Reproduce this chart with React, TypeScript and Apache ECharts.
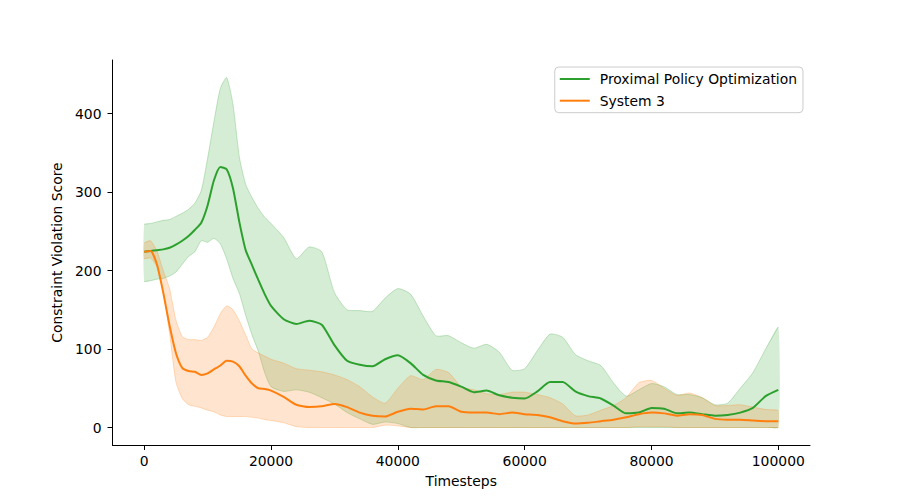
import React, { useEffect, useRef } from "react";
import * as echarts from "echarts";

const steps: number[] = [
  0, 1000, 2000, 3000, 4000, 5000, 6000, 7000, 8000, 9000, 10000, 11000, 12000, 13000, 14000, 15000, 16000, 17000, 18000, 19000, 20000,
  22000, 24000, 26000, 28000, 30000, 32000, 34000, 36000, 38000, 40000, 42000, 44000, 46000, 48000, 50000, 52000, 54000, 56000, 58000, 60000,
  62000, 64000, 66000, 68000, 70000, 72000, 74000, 76000, 78000, 80000, 82000, 84000, 86000, 88000, 90000, 92000, 94000, 96000, 98000, 100000,
];

const ppoMean: number[] = [
  224, 225, 226, 227, 229, 233, 238, 244, 252, 261, 283, 315, 332, 329, 305, 262, 226, 207, 188, 170, 155,
  138, 132, 136, 131, 105, 85, 80, 78, 87, 92, 82, 67, 60, 58, 52, 45, 47, 41, 38, 37,
  46, 58, 58, 46, 40, 37, 28, 18, 19, 25, 24, 18, 19, 17, 15, 16, 19, 25, 40, 48,
];
const ppoUpper: number[] = [
  259, 260, 262, 264, 265, 269, 273, 278, 286, 302, 343, 390, 432, 446, 412, 345, 310, 293, 279, 268, 260,
  242, 215, 230, 224, 172, 150, 149, 148, 165, 177, 170, 142, 117, 117, 108, 101, 106, 96, 73, 75,
  98, 119, 115, 93, 85, 79, 57, 40, 48, 56, 52, 42, 42, 38, 29, 31, 50, 70, 100, 128,
];
const ppoLower: number[] = [
  186, 187, 189, 190, 193, 198, 208, 218, 224, 238, 236, 241, 234, 215, 190, 171, 143, 118, 97, 70, 52,
  46, 48, 45, 38, 30, 19, 11, 4, 7, 5, 0, 0, 0, 0, 0, 0, 0, 0, 0, 0,
  0, 0, 0, 0, 0, 0, 0, 0, 0, 0, 0, 0, 0, 0, 0, 0, 0, 0, 0, 0,
];

const sys3Mean: number[] = [
  224, 225, 208, 172, 130, 95, 76, 72, 71, 67, 69, 74, 79, 85, 84, 78, 66, 56, 50, 49, 47,
  39, 29, 26, 27, 30, 26, 19, 15, 14, 20, 24, 23, 27, 27, 20, 19, 19, 17, 19, 17,
  16, 13, 8, 5, 6, 8, 10, 13, 17, 19, 18, 15, 17, 16, 11, 10, 10, 9, 8, 8,
];
const sys3Upper: number[] = [
  235, 238, 225, 200, 177, 137, 116, 112, 112, 111, 115, 128, 145, 155, 150, 136, 118, 100, 95, 91, 87,
  82, 75, 73, 71, 67, 61, 52, 39, 31, 50, 66, 61, 74, 70, 52, 48, 43, 42, 45, 45,
  42, 38, 30, 15, 16, 22, 28, 38, 57, 60, 50, 41, 44, 38, 28, 28, 29, 26, 23, 22,
];
const sys3Lower: number[] = [
  215, 216, 205, 172, 120, 58, 37, 29, 27, 25, 22, 20, 16, 14, 14, 14, 14, 13, 12, 10, 9,
  6, 1, 0, 0, 0, 0, 0, 0, 3, 2, 0, 0, 0, 0, 0, 0, 0, 0, 0, 0,
  0, 0, 0, 0, 0, 0, 0, 0, 1, 1, 1, 0, 0, 0, 0, 0, 0, 0, 0, 0,
];

const xTicks: number[] = [0, 20000, 40000, 60000, 80000, 100000];
const yTicks: number[] = [0, 100, 200, 300, 400];

const seriesNames = ["Proximal Policy Optimization", "System 3"];
const colors = ["#2ca02c", "#ff7f0e"];
const bandFills = ["rgba(44,160,44,0.2)", "rgba(255,127,14,0.2)"];
const bandEdges = ["rgba(44,160,44,0.25)", "rgba(255,127,14,0.25)"];

const FONT = "DejaVu Sans";
const FS = 13.9;
const SMOOTH = 0.2;

function bandSeries(idx: number, lower: number[], upper: number[]) {
  return {
    type: "custom",
    name: "band" + idx,
    silent: true,
    z: 1,
    data: [[steps[0], lower[0]]],
    encode: { x: 0, y: 1 },
    renderItem: (_params: any, api: any) => {
      const up = steps.map((x, i) => api.coord([x, upper[i]]));
      const lo = steps.map((x, i) => api.coord([x, lower[i]]));
      const poly = up.concat(lo.slice().reverse());
      return {
        type: "group",
        children: [
          { type: "polygon", shape: { points: poly, smooth: SMOOTH }, style: { fill: bandFills[idx], stroke: "none" } },
          { type: "polyline", shape: { points: up, smooth: SMOOTH }, style: { fill: "none", stroke: bandEdges[idx], lineWidth: 1 } },
          { type: "polyline", shape: { points: lo, smooth: SMOOTH }, style: { fill: "none", stroke: bandEdges[idx], lineWidth: 1 } },
        ],
      };
    },
  };
}

function meanSeries(idx: number, mean: number[]) {
  return {
    type: "line",
    name: seriesNames[idx],
    data: steps.map((x, i) => [x, mean[i]]),
    showSymbol: false,
    symbol: "none",
    smooth: SMOOTH,
    color: colors[idx],
    lineStyle: { color: colors[idx], width: 2 },
    z: 3,
  };
}

export default function App() {
  const ref = useRef<HTMLDivElement>(null);
  useEffect(() => {
    if (!ref.current) return;
    const chart = echarts.init(ref.current, undefined, { renderer: "svg" });
    const axisCommon = {
      axisLine: { show: true, onZero: false, lineStyle: { color: "#000", width: 1 } },
      axisTick: { show: true, inside: false, length: 5, lineStyle: { color: "#000", width: 1 } },
      splitLine: { show: false },
      nameTextStyle: { fontFamily: FONT, fontSize: FS, color: "#000" },
    };
    chart.setOption({
      animation: false,
      backgroundColor: "#fff",
      grid: { left: 112.5, right: 90, top: 60, bottom: 55, containLabel: false },
      legend: {
        data: seriesNames,
        orient: "vertical",
        right: 97,
        top: 67,
        padding: [5, 6, 5, 5],
        itemGap: 7.7,
        itemWidth: 30,
        itemHeight: 2,
        icon: "rect",
        borderColor: "#cccccc",
        borderWidth: 1,
        borderRadius: 4,
        backgroundColor: "#fff",
        textStyle: { fontFamily: FONT, fontSize: FS, color: "#000", padding: [0, 0, 0, 5] },
      },
      xAxis: {
        type: "value",
        min: -5000,
        max: 105000,
        name: "Timesteps",
        nameLocation: "middle",
        nameGap: 29,
        ...axisCommon,
        axisTick: { ...axisCommon.axisTick, customValues: xTicks },
        axisLabel: {
          customValues: xTicks,
          formatter: (v: number) => String(v),
          fontFamily: FONT,
          fontSize: FS,
          color: "#000",
          margin: 9,
        },
      },
      yAxis: {
        type: "value",
        min: -22.3,
        max: 468.3,
        name: "Constraint Violation Score",
        nameLocation: "middle",
        nameRotate: 90,
        nameGap: 45,
        ...axisCommon,
        axisTick: { ...axisCommon.axisTick, customValues: yTicks },
        axisLabel: {
          customValues: yTicks,
          formatter: (v: number) => String(v),
          fontFamily: FONT,
          fontSize: FS,
          color: "#000",
          margin: 11,
        },
      },
      series: [
        bandSeries(0, ppoLower, ppoUpper),
        meanSeries(0, ppoMean),
        bandSeries(1, sys3Lower, sys3Upper),
        meanSeries(1, sys3Mean),
      ],
    });
    return () => chart.dispose();
  }, []);
  return <div ref={ref} style={{ position: "fixed", left: 0, top: 0, width: 900, height: 500 }} />;
}
